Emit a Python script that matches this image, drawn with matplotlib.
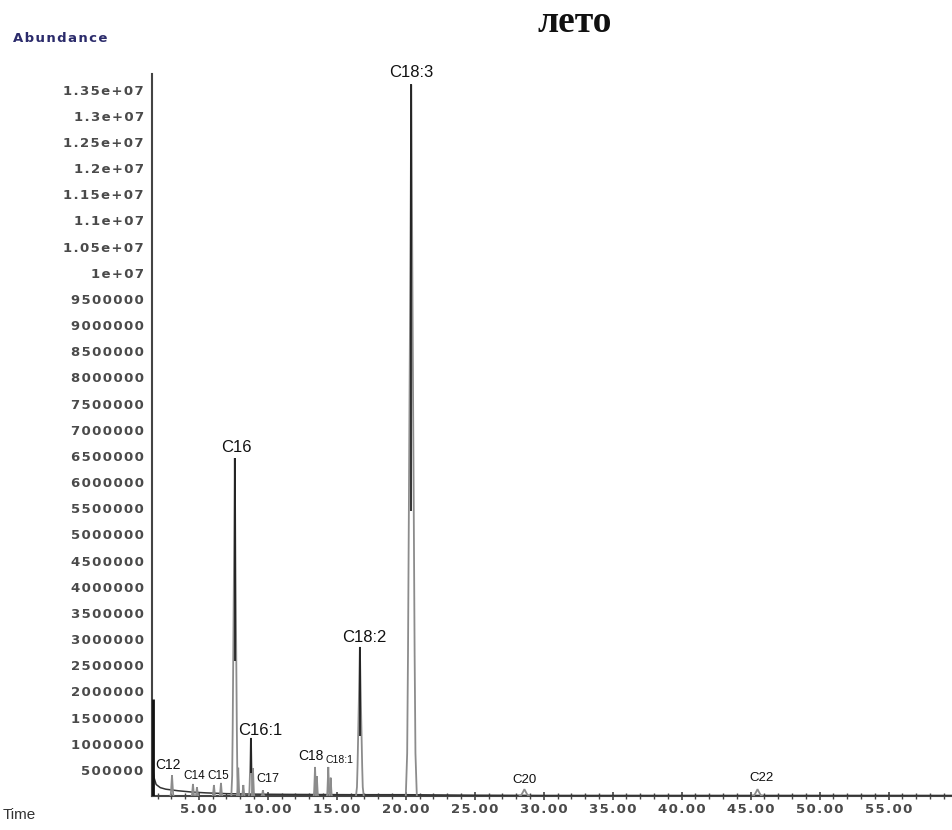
import numpy as np
import matplotlib
matplotlib.use("Agg")
import matplotlib.pyplot as plt
from matplotlib.ticker import FixedLocator, MultipleLocator, FuncFormatter

# ---------------- data ----------------
# baseline / solvent tail (time in min, abundance)
base_time = [1.65, 1.75, 1.9, 2.2, 2.6, 3.5, 4.5, 5.5, 7.0, 9.0, 12.0, 16.0, 20.0, 25.0, 30.0, 40.0, 59.6]
base_abund = [540e3, 350e3, 220e3, 160e3, 130e3, 100e3, 75e3, 60e3, 45e3, 35e3, 30e3, 25e3, 25e3, 15e3, 10e3, 10e3, 10e3]

solvent_time = 1.66
solvent_height = 1.85e6

# chromatographic peaks: retention time, height, half-width (min)
peak_time = [3.05, 4.57, 4.86, 6.09, 6.60, 7.60, 7.85, 8.22, 8.77, 8.92, 9.64,
             13.42, 13.55, 14.38, 14.55, 16.67, 20.40, 28.60, 45.50]
peak_height = [400e3, 230e3, 170e3, 210e3, 250e3, 6.46e6, 540e3, 210e3, 1.11e6, 535e3, 110e3,
               555e3, 380e3, 555e3, 350e3, 2.85e6, 13.6e6, 130e3, 130e3]
peak_halfwidth = [0.12, 0.10, 0.10, 0.10, 0.10, 0.25, 0.10, 0.10, 0.15, 0.10, 0.10,
                  0.10, 0.10, 0.10, 0.10, 0.28, 0.40, 0.35, 0.35]

label_text = ["C12", "C14", "C15", "C16", "C16:1", "C17", "C18", "C18:1", "C18:2", "C18:3", "C20", "C22"]

y_ticks = [v * 500000 for v in range(1, 28)]
x_ticks = [5, 10, 15, 20, 25, 30, 35, 40, 45, 50, 55]

# ---------------- layout (not data) ----------------
label_pos = [(2.75, 593e3), (4.64, 382e3), (6.38, 382e3), (7.75, 6.67e6), (9.42, 1.243e6),
             (9.98, 325e3), (13.12, 765e3), (15.22, 688e3), (16.96, 3.02e6), (20.36, 13.82e6),
             (28.6, 306e3), (45.8, 344e3)]
label_size = [10, 8.5, 8.5, 12, 12, 9, 10, 7.5, 12, 12, 9.5, 9.5]

profile_x = np.array([-1.0, -0.75, -0.6, -0.25, 0.0, 0.25, 0.6, 0.75, 1.0])
profile_y = np.array([0.0, 0.06, 0.2, 0.65, 1.0, 0.65, 0.2, 0.06, 0.0])

SP = "\u200a"


def spaced(s):
    return SP.join(list(s))


W, H = 952, 830
fig = plt.figure(figsize=(W / 100, H / 100), dpi=100)
ax = fig.add_axes([152 / W, 1 - 796 / H, 1 - 152 / W, (796 - 74) / H])

x0 = 1.6
x1 = 59.6
ax.set_xlim(x0, x1)
ax.set_ylim(0, 13.80e6)

# baseline
ax.plot(base_time, base_abund, color="#333333", lw=1.1, zorder=3)
# solvent front
ax.vlines([solvent_time], 0, [solvent_height], color="#111111", lw=2.0, zorder=4)

# peaks
for t, h, hw in zip(peak_time, peak_height, peak_halfwidth):
    ax.plot(t + profile_x * hw, profile_y * h, color="#8c8c8c", lw=1.3, zorder=4,
            solid_joinstyle="miter")
    if h >= 1e6:
        ax.vlines([t], 0.4 * h, h, color="#111111", lw=1.2, zorder=5)

# peak labels
for txt, (lx, ly), fs in zip(label_text, label_pos, label_size):
    ax.text(lx, ly, txt, ha="center", va="center", fontsize=fs,
            family="Liberation Sans", color="#111111", clip_on=False, zorder=6)

# spines
for s in ["top", "right"]:
    ax.spines[s].set_visible(False)
for s in ["left", "bottom"]:
    ax.spines[s].set_color("#444444")
    ax.spines[s].set_linewidth(1.5)

ax.yaxis.set_major_locator(FixedLocator(y_ticks))


def yfmt(v, pos):
    if v >= 1e7:
        return spaced(f"{v:g}")
    return spaced(str(int(round(v))))


ax.yaxis.set_major_formatter(FuncFormatter(yfmt))
ax.xaxis.set_major_locator(FixedLocator(x_ticks))
ax.xaxis.set_minor_locator(MultipleLocator(1))
ax.xaxis.set_major_formatter(FuncFormatter(lambda v, p: spaced(f"{v:.2f}")))

ax.tick_params(axis="y", length=0, pad=6, labelsize=9.5, labelcolor="#4a4a4a")
ax.tick_params(axis="x", which="major", direction="inout", length=6, width=1.2,
               color="#444444", pad=2, labelsize=9.5, labelcolor="#4a4a4a")
ax.tick_params(axis="x", which="minor", direction="inout", length=4, width=1.0, color="#444444")
for lab in ax.get_yticklabels() + ax.get_xticklabels():
    lab.set_fontweight("bold")
    lab.set_family("DejaVu Sans")

# texts
fig.text(575 / W, 1 - 23 / H, "лето", ha="center", va="center", fontsize=27,
         family="Liberation Serif", fontweight="bold", color="#111111")
fig.text(13 / W, 1 - 38 / H, spaced("Abundance"), ha="left", va="center", fontsize=9.5,
         family="DejaVu Sans", fontweight="bold", color="#2b2b6b")
fig.text(3 / W, 1 - 815 / H, "Time", ha="left", va="center", fontsize=11,
         family="Liberation Sans", color="#333333")

fig.savefig("out.png", dpi=100)
